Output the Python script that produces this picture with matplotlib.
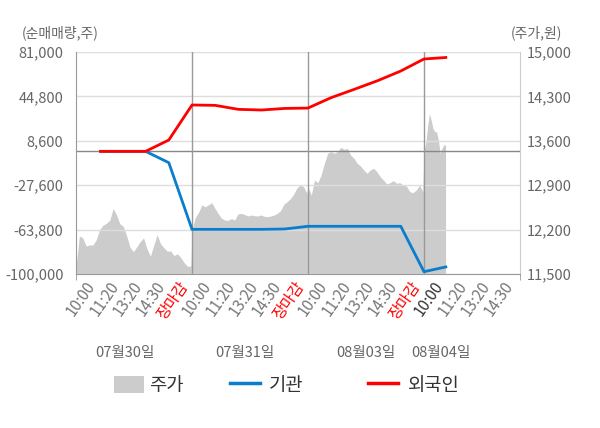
import numpy as np
import matplotlib
matplotlib.use("Agg")
import matplotlib.pyplot as plt
import matplotlib.transforms as mtransforms
from matplotlib.patches import Patch
from matplotlib.lines import Line2D

plt.rcParams['font.family'] = ['Noto Sans CJK KR', 'DejaVu Sans']

# price (won), one list per trading day
price_d1 = [11616, 12100, 12070, 11941, 11957, 11957, 12040, 12200, 12270, 12300,
            12350, 12535, 12430, 12290, 12250, 12100, 11920, 11852, 11930, 12010,
            12070, 11900, 11780, 11950, 12120, 11980, 11915, 11860, 11865, 11790,
            11820, 11760, 11680, 11620, 11626]
price_d2 = [12194, 12390, 12470, 12590, 12560, 12590, 12625, 12535, 12450, 12380,
            12350, 12345, 12375, 12350, 12446, 12455, 12440, 12414, 12430, 12420,
            12414, 12430, 12410, 12404, 12414, 12430, 12457, 12500, 12600, 12640,
            12690, 12760, 12860, 12903, 12877, 12772]
price_d3 = [12877, 12745, 12982, 12940, 13061, 13245, 13402, 13429, 13402, 13429,
            13497, 13466, 13481, 13376, 13324, 13245, 13203, 13140, 13087, 13140,
            13166, 13113, 13035, 12982, 12919, 12940, 12972, 12930, 12940, 12903,
            12887, 12798, 12782, 12824, 12903, 12798]
price_d4 = [13455, 13560, 13823, 14033, 13928, 13796, 13744, 13744, 13613, 13402,
            13481, 13534, 13534]

# net buying (shares) at 10:00, 11:20, 13:20, 14:30, close of each day
foreign = [0, 0, 0, 9250, 37800,
           37500, 34250, 33700, 35000, 35300,
           43800, 50600, 57600, 65500, 75300,
           76600]
inst = [0, 0, 0, -9230, -63600,
        -63600, -63600, -63600, -63300, -61100,
        -61100, -61100, -61100, -61100, -98100,
        -94000]

time_labels = ['10:00', '11:20', '13:20', '14:30', '장마감'] * 3 + ['10:00', '11:20', '13:20', '14:30']
dates = ['07월30일', '07월31일', '08월03일', '08월04일']
date_pos = [2.1, 7.3, 12.5, 15.75]

left_ticks = [81000, 44800, 8600, -27600, -63800, -100000]
right_ticks = [15000, 14300, 13600, 12900, 12200, 11500]

# x positions: each day spans 5 units
day_len = 5
price_x = np.concatenate([
    np.linspace(0, 4.95, len(price_d1)),
    np.linspace(5, 9.95, len(price_d2)),
    np.linspace(10, 14.95, len(price_d3)),
    np.linspace(15, 15.93, len(price_d4)),
])
price = np.array(price_d1 + price_d2 + price_d3 + price_d4)
flow_x = np.arange(1, len(foreign) + 1)

fig = plt.figure(figsize=(6, 4.28), dpi=100)
ax = fig.add_axes([0.1267, 0.3598, 0.74, 0.5187])
ax2 = ax.twinx()
ax.set_zorder(2)
ax2.set_zorder(1)
ax.patch.set_visible(False)
ax2.patch.set_facecolor('#f4f4f4')

ax2.fill_between(price_x, 11500, price, color='#cccccc', lw=0)
ax2.set_ylim(11500, 15000)
ax2.set_yticks(right_ticks)
ax2.set_yticklabels([f'{v:,}' for v in right_ticks])

ax.set_xlim(0, 19.14)
ax.set_ylim(-100000, 81000)
ax.set_yticks(left_ticks)
ax.set_yticklabels([f'{v:,}' for v in left_ticks])
ax.grid(axis='y', color='#dddddd', lw=1, zorder=1)
ax.axhline(0, color='#888888', lw=1, zorder=2)
for d in range(1, 4):
    ax.axvline(d * day_len, color='#999999', lw=1, zorder=2)

ax.plot(flow_x, inst, color='#0a7dcc', lw=2, zorder=4, solid_capstyle='butt')
ax.plot(flow_x, foreign, color='#ff0000', lw=2, zorder=5, solid_capstyle='butt')

ax.set_xticks(np.arange(1, 20))
ax.set_xticklabels(time_labels, rotation=55, ha='right', fontsize=11)
offset = mtransforms.ScaledTranslation(3 / 100, 0, fig.dpi_scale_trans)
for i, lab in enumerate(ax.get_xticklabels()):
    lab.set_transform(lab.get_transform() + offset)
    if time_labels[i] == '장마감':
        lab.set_color('#ff0000')
    elif i == 15:
        lab.set_color('#333333')
    else:
        lab.set_color('#777777')
ax.tick_params(axis='x', length=0, pad=3)
ax.set_xticks([0, 5, 10, 15, 19.14], minor=True)
ax.tick_params(axis='x', which='minor', length=4, color='#999999')
ax.tick_params(axis='y', length=0, pad=9, labelsize=10.5, labelcolor='#666666')
ax2.tick_params(axis='y', length=0, pad=5, labelsize=10.5, labelcolor='#666666')

for a in (ax, ax2):
    a.spines['top'].set_visible(False)
ax.spines['right'].set_visible(False)
ax2.spines['left'].set_visible(False)
ax2.spines['bottom'].set_visible(False)
ax.spines['left'].set_color('#999999')
ax.spines['bottom'].set_color('#999999')
ax2.spines['right'].set_color('#cccccc')

trans = mtransforms.blended_transform_factory(ax.transData, fig.transFigure)
for p, t in zip(date_pos, dates):
    ax.text(p, 0.175, t, transform=trans, ha='center', va='center',
            fontsize=10.5, color='#666666')

fig.text(0.037, 0.923, '(순매매량,주)', ha='left', va='center', fontsize=10, color='#666666')
fig.text(0.937, 0.923, '(주가,원)', ha='right', va='center', fontsize=10, color='#666666')

# legend: one entry per box so each sits where the original has it
entries = [
    (Patch(facecolor='#cccccc', edgecolor='none'), '주가', 0.19, 0.25),
    (Line2D([], [], color='#0a7dcc', lw=2.5), '기관', 0.383, 0.5),
    (Line2D([], [], color='#ff0000', lw=2.5), '외국인', 0.613, 0.55),
]
for h, name, xpos, tpad in entries:
    leg = fig.legend([h], [name], loc='center left', bbox_to_anchor=(xpos, 0.1),
                     frameon=False, fontsize=13.5, handlelength=1.6, handleheight=1.0,
                     handletextpad=tpad, borderpad=0, borderaxespad=0,
                     labelcolor='#333333')

fig.savefig('out.png', dpi=100)
